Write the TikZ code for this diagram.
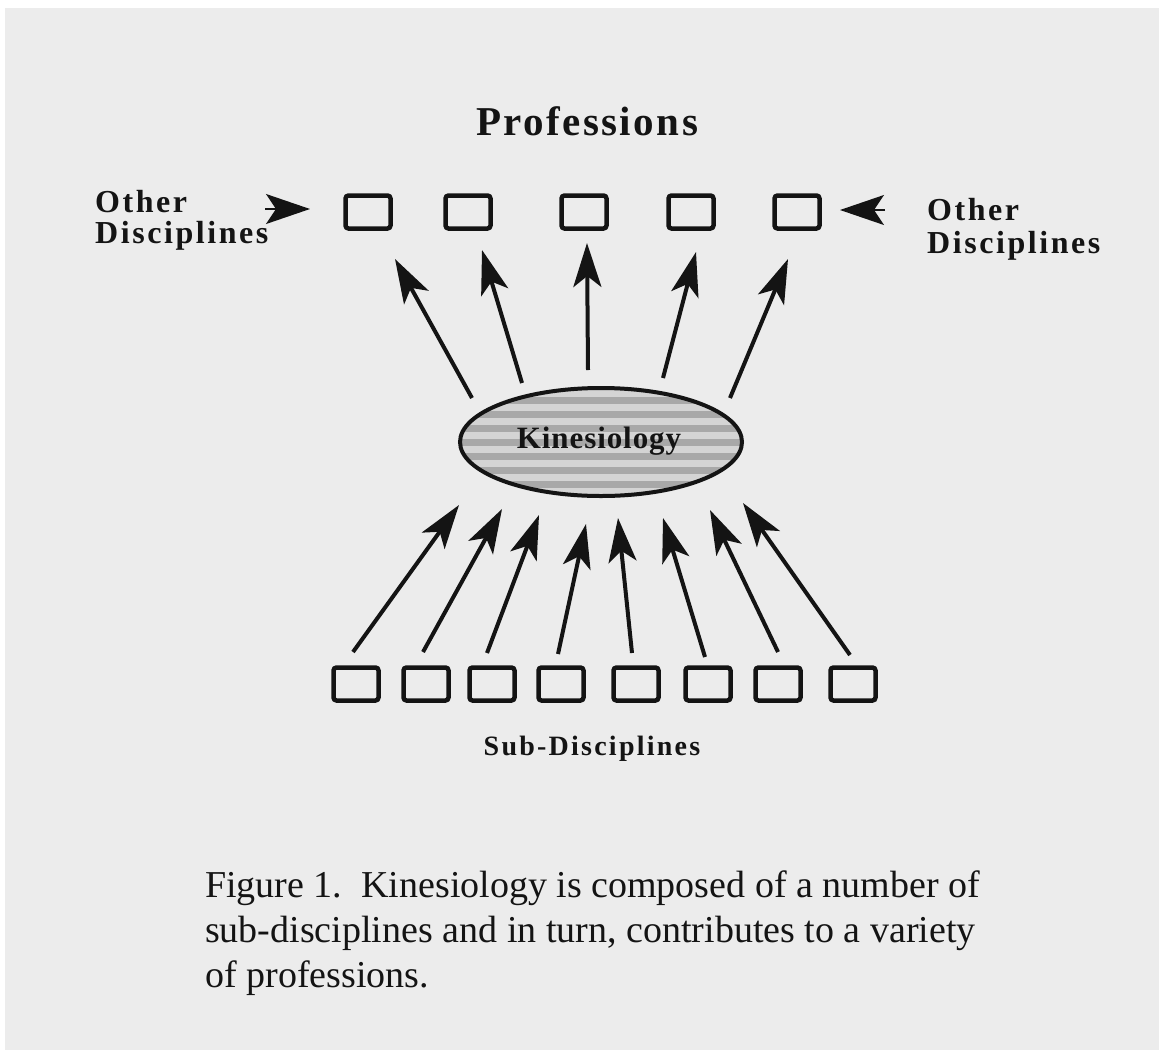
\documentclass[tikz,border=0pt]{standalone}
\usepackage{fontspec}
\setmainfont{Liberation Serif}
\newfontfamily\profont[LetterSpace=6]{Liberation Serif}
\newfontfamily\kinfont[LetterSpace=3]{Liberation Serif}
\newfontfamily\lblfont[LetterSpace=8]{Liberation Serif}
\usetikzlibrary{shapes.geometric,arrows.meta,calc}
\definecolor{paper}{RGB}{236,236,236}
\definecolor{ink}{RGB}{20,20,20}
\definecolor{ellbase}{RGB}{212,212,212}
\definecolor{stripe}{RGB}{168,168,168}
\tikzset{
  box/.style={draw=ink, line width=4.5pt, rounded corners=3pt, minimum width=45pt, minimum height=33pt, inner sep=0pt},
  bigarrow/.style={draw=ink, line width=4pt, -{Stealth[length=44pt,width=28pt,inset=11pt]}},
  sidearrow/.style={draw=ink, line width=1.5pt, -{Stealth[length=44pt,width=30pt,inset=10pt]}},
  lbl/.style={font=\lblfont\bfseries\fontsize{32}{35}\selectfont, text=ink, inner sep=0pt},
  caption/.style={font=\fontsize{38}{45}\selectfont, text=ink, inner sep=0pt, anchor=base west},
}
\begin{document}
\begin{tikzpicture}[x=1pt,y=-1pt]
\useasboundingbox (0,0) rectangle (1159,1055);
\fill[white] (0,0) rectangle (1159,1055);
\fill[paper] (5,8) rectangle (1159,1050);

% title
\node[font=\profont\bfseries\fontsize{41}{44}\selectfont, text=ink, inner sep=0pt, anchor=base] (prof) at (587,135) {Professions};

% top boxes
\node[box] (t1) at (368,212) {};
\node[box] (t2) at (468,212) {};
\node[box] (t3) at (584,212) {};
\node[box] (t4) at (691,212) {};
\node[box] (t5) at (797,212) {};

% other disciplines labels
\node[lbl, anchor=base west] (oL1) at (95,212) {Other};
\node[lbl, anchor=base west] (oL2) at (95,243) {Disciplines};
\node[lbl, anchor=base west] (oR1) at (927,220) {Other};
\node[lbl, anchor=base west] (oR2) at (927,253) {Disciplines};

\coordinate (lsrc) at (265,209);
\coordinate (ltip) at (310,209);
\coordinate (rsrc) at (885,210);
\coordinate (rtip) at (840,210);
\draw[sidearrow] (lsrc) -- (ltip);
\draw[sidearrow] (rsrc) -- (rtip);

% kinesiology ellipse
\node[ellipse, draw=ink, line width=4pt, minimum width=282pt, minimum height=108pt, fill=ellbase,
  path picture={
    \foreach \k in {-4,...,4}{
      \fill[stripe] ([yshift=\k*14pt-3.5pt]path picture bounding box.west) rectangle ([yshift=\k*14pt+3.5pt]path picture bounding box.east);
    }
  }] (kin) at (601,442) {};
\node[font=\kinfont\bfseries\fontsize{31}{33}\selectfont, text=ink, inner sep=0pt, anchor=base] (kintext) at (599,448) {Kinesiology};

% top arrows
\coordinate (ua1) at (472,398); \coordinate (uh1) at (395,259);
\coordinate (ua2) at (522,383); \coordinate (uh2) at (482,250);
\coordinate (ua3) at (588,370); \coordinate (uh3) at (587,243);
\coordinate (ua4) at (663,378); \coordinate (uh4) at (696,252);
\coordinate (ua5) at (730,398); \coordinate (uh5) at (788,259);
\foreach \i in {1,...,5}{\draw[bigarrow] (ua\i) -- (uh\i);}

% bottom boxes
\node[box] (b1) at (356,684) {};
\node[box] (b2) at (426,684) {};
\node[box] (b3) at (492,684) {};
\node[box] (b4) at (561,684) {};
\node[box] (b5) at (636,684) {};
\node[box] (b6) at (708,684) {};
\node[box] (b7) at (778,684) {};
\node[box] (b8) at (853,684) {};

% bottom arrows
\coordinate (da1) at (353,652); \coordinate (dh1) at (459,505);
\coordinate (da2) at (423,652); \coordinate (dh2) at (502,509);
\coordinate (da3) at (487,653); \coordinate (dh3) at (539,515);
\coordinate (da4) at (558,654); \coordinate (dh4) at (586,524);
\coordinate (da5) at (632,653); \coordinate (dh5) at (618,518);
\coordinate (da6) at (705,657); \coordinate (dh6) at (663,518);
\coordinate (da7) at (778,652); \coordinate (dh7) at (710,510);
\coordinate (da8) at (850,655); \coordinate (dh8) at (743,503);
\foreach \i in {1,...,8}{\draw[bigarrow] (da\i) -- (dh\i);}

\node[font=\lblfont\bfseries\fontsize{28}{30}\selectfont, text=ink, inner sep=0pt, anchor=base] (sub) at (592,755) {Sub-Disciplines};

% caption
\node[caption] (cap1) at (205,897) {Figure 1.\hspace{0.5em}Kinesiology is composed of a number of};
\node[caption] (cap2) at (205,942) {sub-disciplines and in turn, contributes to a variety};
\node[caption] (cap3) at (205,987) {of professions.};
\end{tikzpicture}
\end{document}
